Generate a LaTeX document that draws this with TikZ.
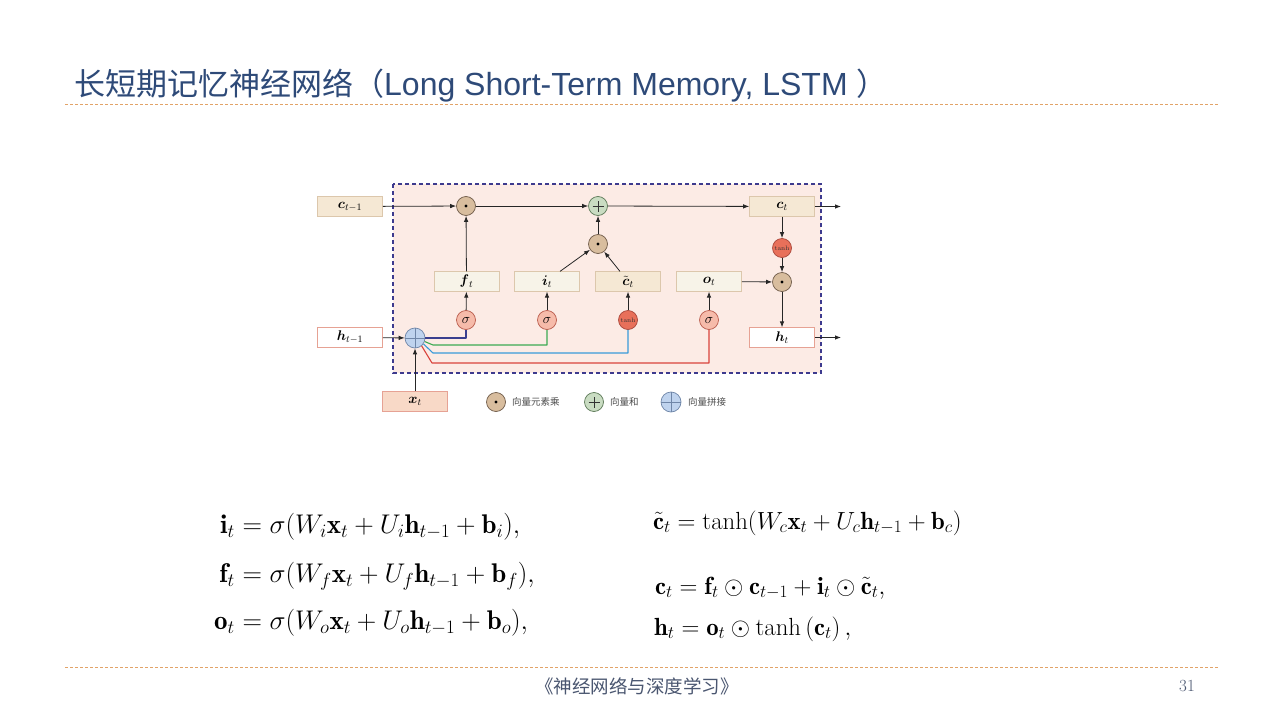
\RequirePackage{fix-cm}
\documentclass[tikz,border=0pt]{standalone}
\usepackage{amsmath,amssymb}
\usepackage{fontspec}
\setsansfont{Liberation Sans}
\newfontfamily\cjk{Noto Sans CJK SC}
\usetikzlibrary{arrows.meta,calc}

\definecolor{titleblue}{HTML}{2E4A78}
\definecolor{rulecol}{HTML}{E2A368}
\definecolor{panelfill}{HTML}{FCEBE5}
\definecolor{paneledge}{HTML}{3D3A8E}
\definecolor{cream}{HTML}{F7F3E8}
\definecolor{beige}{HTML}{F5E8D4}
\definecolor{boxedge}{HTML}{DCC7AC}
\definecolor{pinkedge}{HTML}{E6A294}
\definecolor{salmon}{HTML}{F8D9C7}
\definecolor{prodfill}{HTML}{D8BD9E}
\definecolor{prodedge}{HTML}{6E5A48}
\definecolor{sumfill}{HTML}{C9DCC2}
\definecolor{sumedge}{HTML}{5B7856}
\definecolor{catfill}{HTML}{BFD3EE}
\definecolor{catedge}{HTML}{6F86A8}
\definecolor{sigfill}{HTML}{F6BBAA}
\definecolor{sigedge}{HTML}{B85A4A}
\definecolor{tanhfill}{HTML}{E8705A}
\definecolor{tanhedge}{HTML}{A8463A}
\definecolor{wnavy}{HTML}{3A3F8F}
\definecolor{wgreen}{HTML}{3DAA52}
\definecolor{wblue}{HTML}{3A9AD9}
\definecolor{wred}{HTML}{D9433C}
\definecolor{footcol}{HTML}{4A5670}

\tikzset{
  arr/.style={-{Latex[length=6pt,width=4.5pt]}, line width=0.8pt, black!85},
  wire/.style={line width=1.1pt, line join=round},
  vec/.style={draw=boxedge, fill=cream, line width=0.7pt, minimum width=65pt,
    minimum height=19.5pt, inner sep=0pt, font=\fontsize{14}{16}\selectfont},
  vecdark/.style={vec, fill=beige},
  vecwhite/.style={vec, fill=white, draw=pinkedge},
  vecx/.style={vec, fill=salmon, draw=pinkedge},
  prod/.style={circle, draw=prodedge, fill=prodfill, line width=0.7pt,
    minimum size=19pt, inner sep=0pt,
    path picture={\fill[black] (path picture bounding box.center) circle (1.6pt);}},
  vsum/.style={circle, draw=sumedge, fill=sumfill, line width=0.7pt,
    minimum size=19pt, inner sep=0pt,
    path picture={\draw[line width=0.9pt,black!80]
      ($(path picture bounding box.center)+(-5.5pt,0)$) -- ++(11pt,0)
      ($(path picture bounding box.center)+(0,-5.5pt)$) -- ++(0,11pt);}},
  vcat/.style={circle, draw=catedge, fill=catfill, line width=0.7pt,
    minimum size=20pt, inner sep=0pt,
    path picture={\draw[line width=0.7pt,catedge]
      (path picture bounding box.west) -- (path picture bounding box.east)
      (path picture bounding box.north) -- (path picture bounding box.south);}},
  sig/.style={circle, draw=sigedge, fill=sigfill, line width=0.7pt,
    minimum size=19pt, inner sep=0pt, font=\fontsize{14}{16}\selectfont},
  tanhnode/.style={circle, draw=tanhedge, fill=tanhfill, line width=0.7pt,
    minimum size=19pt, inner sep=0pt, text=black!80, font=\fontsize{6.5}{7}\selectfont},
  legend/.style={anchor=west, inner sep=0pt, text=black!70,
    font=\cjk\fontsize{9.5}{11}\selectfont},
  eqL/.style={inner sep=0pt, font=\fontsize{27}{30}\selectfont},
  eqR/.style={inner sep=0pt, font=\fontsize{24.8}{28}\selectfont, anchor=base west},
  hrule/.style={rulecol, line width=0.8pt, dash pattern=on 3pt off 2pt},
}

\begin{document}
\begin{tikzpicture}[x=1pt,y=-1pt]
\useasboundingbox (0,0) rectangle (1280,720);
\fill[white] (0,0) rectangle (1280,720);

% heading and rules
\node[anchor=base west, inner sep=0pt, text=titleblue]
  (title) at (74,95) {\cjk\fontsize{31}{34}\selectfont 长短期记忆神经网络（\sffamily\fontsize{32}{34}\selectfont Long Short-Term Memory, LSTM \cjk\fontsize{31}{34}\selectfont）};
\draw[hrule] (65,104) coordinate (r1a) -- (1218,104) coordinate (r1b);
\draw[hrule] (65,667) coordinate (r2a) -- (1218,667) coordinate (r2b);

% cell panel
\draw[fill=panelfill, draw=paneledge, line width=1.3pt, dash pattern=on 4pt off 3pt]
  (393,184) rectangle (821,373);

% vectors
\node[vecdark] (ctm1) at (350,206.5) {$\boldsymbol{c}_{t-1}$};
\node[vecwhite] (htm1) at (350,337.5) {$\boldsymbol{h}_{t-1}$};
\node[vecx] (xt) at (415,401.5) {$\boldsymbol{x}_t$};
\node[vecdark] (ct) at (782,206.5) {$\boldsymbol{c}_t$};
\node[vecwhite] (ht) at (782,337.5) {$\boldsymbol{h}_t$};
\node[vec] (ft) at (466.5,281.5) {$\boldsymbol{f}_t$};
\node[vec] (it) at (547,281.5) {$\boldsymbol{i}_t$};
\node[vecdark] (cct) at (628,281.5) {$\tilde{\boldsymbol{c}}_t$};
\node[vec] (ot) at (709,281.5) {$\boldsymbol{o}_t$};

% operators
\node[prod] (mulf) at (466,206) {};
\node[vsum] (add) at (598,206) {};
\node[prod] (muli) at (598,244) {};
\node[tanhnode] (tanhc) at (782,248) {tanh};
\node[prod] (mulo) at (782,282) {};
\node[sig] (sf) at (466,320) {$\sigma$};
\node[sig] (si) at (547,320) {$\sigma$};
\node[tanhnode] (tc) at (628,320) {tanh};
\node[sig] (so) at (709,320) {$\sigma$};
\node[vcat] (cat) at (415,338) {};

% outputs
\coordinate (cout) at (841,206.5);
\coordinate (hout) at (841,337.5);

% cell state path
\draw[arr] (ctm1) -- (mulf);
\draw[arr] (mulf) -- (add);
\draw[arr] (add) -- (ct);
\draw[arr] (ct) -- (cout);
\draw[arr] (ft) -- (mulf);
\draw[arr] ($(it.north)+(13,0)$) -- (muli);
\draw[arr] ($(cct.north)+(-8,0)$) -- (muli);
\draw[arr] (muli) -- (add);

% output path
\draw[arr] (ct) -- (tanhc);
\draw[arr] (tanhc) -- (mulo);
\draw[arr] (ot) -- (mulo);
\draw[arr] (mulo) -- (ht);
\draw[arr] (ht) -- (hout);

% gates
\draw[arr] (sf) -- (ft);
\draw[arr] (si) -- (it);
\draw[arr] (tc) -- (cct);
\draw[arr] (so) -- (ot);

% inputs
\draw[arr] (htm1) -- (cat);
\draw[arr] (xt) -- (cat);

% concatenated input to each gate
\draw[wire, wnavy] (cat.east) -- (sf.south |- cat.east) -- (sf.south);
\draw[wire, wgreen] (cat.-20) -- (433,345) -- (si.south |- 0,345) -- (si.south);
\draw[wire, wblue] (cat.-35) -- (433,353) -- (tc.south |- 0,353) -- (tc.south);
\draw[wire, wred] (cat.-50) -- (432,363) -- (so.south |- 0,363) -- (so.south);

% legend
\node[prod] (lg1) at (496,402) {};
\node[legend] (lt1) at (512,402) {向量元素乘};
\node[vsum] (lg2) at (594,402) {};
\node[legend] (lt2) at (610,402) {向量和};
\node[vcat] (lg3) at (671,402) {};
\node[legend] (lt3) at (688,402) {向量拼接};

% gate equations
\node[eqL, anchor=base east] (e1l) at (235,533) {$\mathbf{i}_t$};
\node[eqL, anchor=base west] (e1r) at (235,533) {${}=\sigma(W_i\mathbf{x}_t+U_i\mathbf{h}_{t-1}+\mathbf{b}_i),$};
\node[eqL, anchor=base east] (e2l) at (235,582) {$\mathbf{f}_t$};
\node[eqL, anchor=base west] (e2r) at (235,582) {${}=\sigma(W_f\mathbf{x}_t+U_f\mathbf{h}_{t-1}+\mathbf{b}_f),$};
\node[eqL, anchor=base east] (e3l) at (235,629) {$\mathbf{o}_t$};
\node[eqL, anchor=base west] (e3r) at (235,629) {${}=\sigma(W_o\mathbf{x}_t+U_o\mathbf{h}_{t-1}+\mathbf{b}_o),$};

% state equations
\node[eqR] (e4) at (653,529) {$\tilde{\mathbf{c}}_t=\tanh(W_c\mathbf{x}_t+U_c\mathbf{h}_{t-1}+\mathbf{b}_c)$};
\node[eqR] (e5) at (655,594) {$\mathbf{c}_t=\mathbf{f}_t\odot\mathbf{c}_{t-1}+\mathbf{i}_t\odot\tilde{\mathbf{c}}_t,$};
\node[eqR] (e6) at (654,635) {$\mathbf{h}_t=\mathbf{o}_t\odot\tanh\left(\mathbf{c}_t\right),$};

% footer
\node[anchor=center, inner sep=0pt, text=footcol, font=\cjk\fontsize{18.5}{20}\selectfont]
  (book) at (637,686) {《神经网络与深度学习》};
\node[anchor=center, inner sep=0pt, text=footcol, font=\fontsize{17}{18}\selectfont]
  (page) at (1187,686) {31};
\end{tikzpicture}
\end{document}
